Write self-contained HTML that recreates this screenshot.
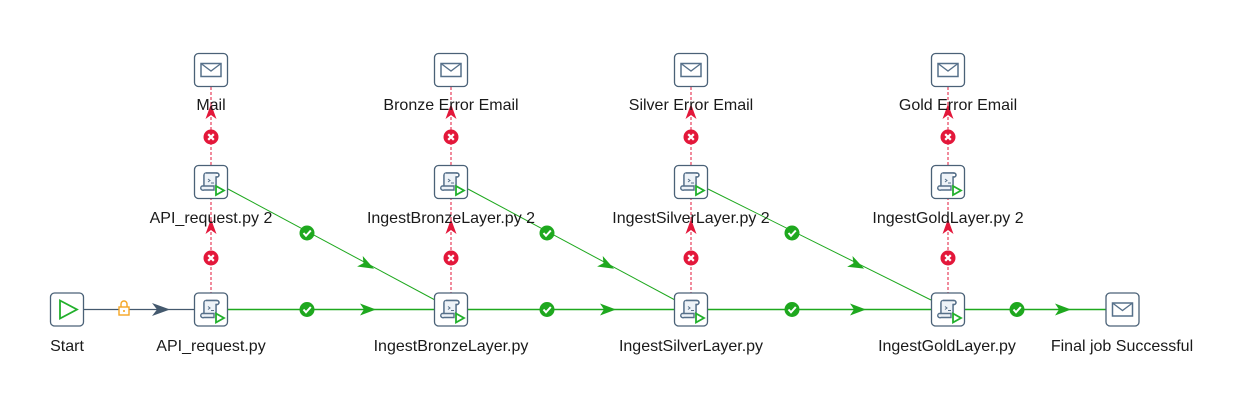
<!DOCTYPE html>
<html><head><meta charset="utf-8"><style>
html,body{margin:0;padding:0;background:#fff;width:1246px;height:404px;overflow:hidden}
text{font-family:"Liberation Sans","DejaVu Sans",sans-serif;font-size:16px;fill:#1a1a1a}
</style></head><body>
<svg width="1246" height="404" viewBox="0 0 1246 404" xmlns="http://www.w3.org/2000/svg">
<defs>
<g id="box"><rect x="-16.5" y="-16.5" width="33" height="33" rx="4" fill="#fff" stroke="#4a6177" stroke-width="1.3"/></g>
<g id="mail"><use href="#box"/><rect x="-10" y="-6.5" width="20" height="13" fill="#fff" stroke="#56708a" stroke-width="1.5"/><polyline points="-10,-6.5 0,1 10,-6.5" fill="none" stroke="#56708a" stroke-width="1.3"/></g>
<g id="script"><use href="#box"/>
<path d="M-5,-9 h11 a2,2 0 0 1 0,4 h-1 v10" fill="none" stroke="#56708a" stroke-width="1.4"/>
<path d="M-5,-9 a2,2 0 0 0 -2,2 v11" fill="none" stroke="#56708a" stroke-width="1.4"/>
<path d="M-5,-9 h10 v14 h-12 v-11 z" fill="#eef3f8"/>
<path d="M-5,-9 h11 a2,2 0 0 1 0,4 h-1 v9 M-7,-7 v11" fill="none" stroke="#56708a" stroke-width="1.4"/>
<path d="M-9,4 h12 v4 h-10 a2,2 0 0 1 -2,-4 z" fill="#eef3f8" stroke="#56708a" stroke-width="1.4"/>
<path d="M-3,-3 l2,1.5 l-2,1.5 M0,1 h3" fill="none" stroke="#56708a" stroke-width="1"/>
<polygon points="5,4 13,8.5 5,13" fill="#fff" stroke="#22b02c" stroke-width="1.8"/></g>
<g id="ok"><circle r="7.5" fill="#1ea81e"/><polyline points="-3.5,0 -1,2.8 3.8,-2.5" fill="none" stroke="#fff" stroke-width="2"/></g>
<g id="err"><circle r="7.5" fill="#e3173a"/><path d="M-2.8,-2.8 L2.8,2.8 M2.8,-2.8 L-2.8,2.8" stroke="#fff" stroke-width="2.2"/></g>
<g id="garr"><polygon points="8,0 -8,-6 -4,0 -8,6" fill="#1ea81e"/></g>
<g id="rarr"><polygon points="0,-8 -5.5,7 0,3 5.5,7" fill="#e3173a"/></g>
</defs>

<line x1="83" y1="309.5" x2="195" y2="309.5" stroke="#44596e" stroke-width="1.3"/>
<polygon points="170,309.5 152,303 157,309.5 152,316" fill="#44596e"/>
<g transform="translate(124,310)"><rect x="-5" y="-3" width="10" height="8" fill="#fff" stroke="#f5a623" stroke-width="1.4"/><path d="M-3,-3 v-3 a3,3 0 0 1 6,0 v3" fill="none" stroke="#f5a623" stroke-width="1.4"/><rect x="-0.8" y="0" width="1.6" height="2" fill="#f5a623"/></g>

<g stroke="#1ea81e" stroke-width="1.4">
<line x1="228" y1="309.5" x2="435" y2="309.5"/>
<line x1="468" y1="309.5" x2="675" y2="309.5"/>
<line x1="708" y1="309.5" x2="931" y2="309.5"/>
<line x1="964" y1="309.5" x2="1106" y2="309.5"/>
</g>
<use href="#ok" x="307" y="309.5"/><use href="#garr" x="368" y="309.5"/>
<use href="#ok" x="547" y="309.5"/><use href="#garr" x="608" y="309.5"/>
<use href="#ok" x="792" y="309.5"/><use href="#garr" x="858" y="309.5"/>
<use href="#ok" x="1017" y="309.5"/><use href="#garr" x="1063" y="309.5"/>

<g stroke="#1ea81e" stroke-width="1">
<line x1="228" y1="189" x2="435" y2="300"/>
<line x1="468" y1="189" x2="675" y2="300"/>
<line x1="708" y1="189" x2="931" y2="300"/>
</g>
<use href="#ok" x="307" y="233"/><g transform="translate(367,265) rotate(28)"><use href="#garr"/></g>
<use href="#ok" x="547" y="233"/><g transform="translate(607,265) rotate(28)"><use href="#garr"/></g>
<use href="#ok" x="792" y="233"/><g transform="translate(857,265) rotate(26.5)"><use href="#garr"/></g>

<g stroke="#e3173a" stroke-width="1" stroke-dasharray="3,2">
<line x1="211" y1="87" x2="211" y2="293"/>
<line x1="451" y1="87" x2="451" y2="293"/>
<line x1="691" y1="87" x2="691" y2="293"/>
<line x1="948" y1="87" x2="948" y2="293"/>
</g>
<g>
<use href="#err" x="211" y="258"/><use href="#rarr" x="211" y="227"/><use href="#err" x="211" y="137"/><use href="#rarr" x="211" y="112"/>
<use href="#err" x="451" y="258"/><use href="#rarr" x="451" y="227"/><use href="#err" x="451" y="137"/><use href="#rarr" x="451" y="112"/>
<use href="#err" x="691" y="258"/><use href="#rarr" x="691" y="227"/><use href="#err" x="691" y="137"/><use href="#rarr" x="691" y="112"/>
<use href="#err" x="948" y="258"/><use href="#rarr" x="948" y="227"/><use href="#err" x="948" y="137"/><use href="#rarr" x="948" y="112"/>
</g>

<g transform="translate(67,309.5)"><use href="#box"/><polygon points="-7,-9 10,0 -7,9" fill="#fff" stroke="#22b02c" stroke-width="1.8"/></g>
<use href="#script" x="211" y="309.5"/><use href="#script" x="451" y="309.5"/><use href="#script" x="691" y="309.5"/><use href="#script" x="948" y="309.5"/>
<use href="#script" x="211" y="182"/><use href="#script" x="451" y="182"/><use href="#script" x="691" y="182"/><use href="#script" x="948" y="182"/>
<use href="#mail" x="211" y="70"/><use href="#mail" x="451" y="70"/><use href="#mail" x="691" y="70"/><use href="#mail" x="948" y="70"/>
<use href="#mail" x="1122.5" y="309.5"/>

<g text-anchor="middle">
<text x="211" y="110">Mail</text>
<text x="451" y="110">Bronze Error Email</text>
<text x="691" y="110">Silver Error Email</text>
<text x="958" y="110">Gold Error Email</text>
<text x="211" y="223">API_request.py 2</text>
<text x="451" y="223">IngestBronzeLayer.py 2</text>
<text x="691" y="223">IngestSilverLayer.py 2</text>
<text x="948" y="223">IngestGoldLayer.py 2</text>
<text x="67" y="351">Start</text>
<text x="211" y="351">API_request.py</text>
<text x="451" y="351">IngestBronzeLayer.py</text>
<text x="691" y="351">IngestSilverLayer.py</text>
<text x="947" y="351">IngestGoldLayer.py</text>
<text x="1122" y="351">Final job Successful</text>
</g>
</svg>
</body></html>
